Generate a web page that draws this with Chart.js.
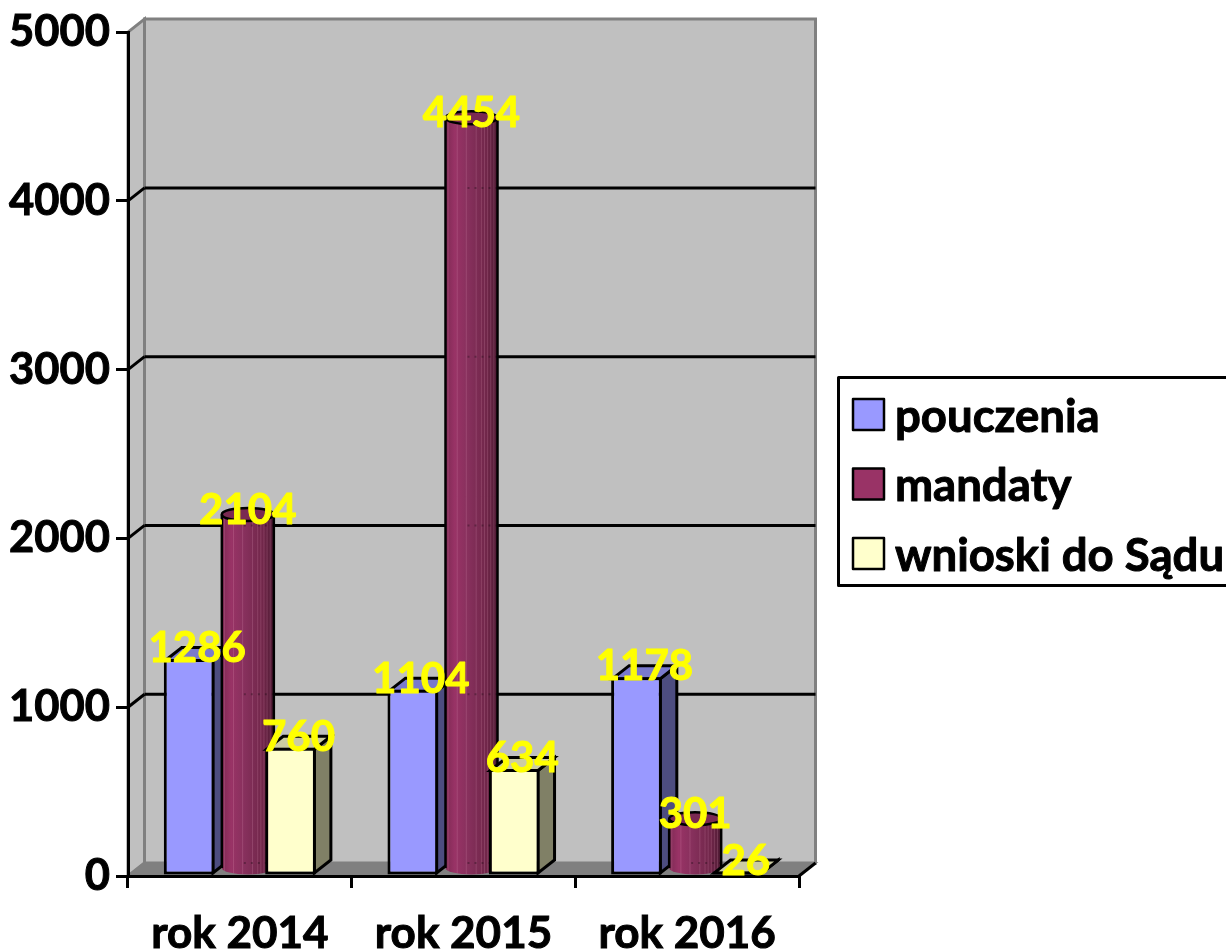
<!DOCTYPE html>
<html><head><meta charset="utf-8">
<script src="https://cdn.jsdelivr.net/npm/chart.js@4"></script>
<style>html,body{margin:0;padding:0;background:#fff}canvas{display:block}</style>
</head><body><canvas id="c" width="1226" height="951"></canvas>
<script>
const categories = ['rok 2014','rok 2015','rok 2016'];
const pouczenia = [1286,1104,1178];
const mandaty = [2104,4454,301];
const wnioski = [760,634,26];
const seriesNames = ['pouczenia','mandaty','wnioski do Sądu'];
const yTicksMax = 5000;
const DX = 16.5, DY = 13;
const faces = [
 {front:'#9999FF',side:'#4D4D80',top:'#7A7ACC'},
 {front:'#993366',side:'#4D1A33',top:'#7A2952'},
 {front:'#FFFFCC',side:'#808066',top:'#CCCCA3'}
];
function poly(ctx,pts,fill,stroke,lw){
  ctx.beginPath();pts.forEach((p,i)=>i?ctx.lineTo(p[0],p[1]):ctx.moveTo(p[0],p[1]));ctx.closePath();
  if(fill){ctx.fillStyle=fill;ctx.fill();}
  if(stroke){ctx.strokeStyle=stroke;ctx.lineWidth=lw;ctx.stroke();}
}
function seg(ctx,a,b,c,d,col,lw){ctx.beginPath();ctx.moveTo(a,b);ctx.lineTo(c,d);ctx.strokeStyle=col;ctx.lineWidth=lw;ctx.stroke();}
function boldText(ctx,s,x,y,col,sw){
  ctx.fillStyle=col;ctx.strokeStyle=col;ctx.lineWidth=sw;ctx.lineJoin='round';
  ctx.strokeText(s,x,y);ctx.fillText(s,x,y);
}
const walls = {id:'walls',beforeDraw(ch){
  const {ctx,chartArea:a,scales:{y}}=ch;ctx.save();
  const L=a.left,R=a.right,T=a.top,B=a.bottom;
  poly(ctx,[[L,T],[L+DX,T-DY],[L+DX,B-DY],[L,B]],'#C0C0C0','#808080',3);
  poly(ctx,[[L+DX,T-DY],[R+DX,T-DY],[R+DX,B-DY],[L+DX,B-DY]],'#C0C0C0','#808080',3);
  poly(ctx,[[L,B],[L+DX,B-DY],[R+DX,B-DY],[R,B]],'#808080','#808080',2);
  y.ticks.forEach(t=>{
    if(t.value===0||t.value===yTicksMax) return;
    const p=y.getPixelForValue(t.value);
    seg(ctx,L+DX,p-DY,R+DX,p-DY,'#000',3);
    seg(ctx,L,p,L+DX,p-DY,'#000',3);
  });
  seg(ctx,R,B,R+DX,B-DY,'#000',3);
  ctx.restore();
}};
function cylinder(ch,ctx,el,f){
  const cx=el.x+8,rx=26,ry=DY/2,top=el.y-ry,bot=el.base-ry;
  const g=ctx.createLinearGradient(cx-rx,0,cx+rx,0);
  g.addColorStop(0,'#7E2A54');g.addColorStop(.18,'#993366');g.addColorStop(.45,'#86305C');g.addColorStop(.8,'#702649');g.addColorStop(1,'#4D1A33');
  ctx.beginPath();ctx.moveTo(cx-rx,top);ctx.lineTo(cx-rx,bot);
  ctx.ellipse(cx,bot,rx,ry,0,Math.PI,0,true);ctx.lineTo(cx+rx,top);
  ctx.ellipse(cx,top,rx,ry,0,0,Math.PI,true);ctx.closePath();
  ctx.fillStyle=g;ctx.fill();
  ctx.save();ctx.clip();
  [-.9,-.55,-.2,.18,.38,.5,.62,.74,.86].forEach(k=>{
    seg(ctx,cx+k*rx,top,cx+k*rx,bot+ry,'rgba(255,190,220,.16)',1);
  });
  ctx.setLineDash([2,5]);
  ch.scales.y.ticks.forEach(t=>{
    const p=ch.scales.y.getPixelForValue(t.value)-DY;
    if(p>top&&p<bot) seg(ctx,cx-4,p,cx+rx,p,'rgba(0,0,0,.28)',2);
  });
  ctx.setLineDash([]);
  ctx.restore();
  seg(ctx,cx-rx,top,cx-rx,bot,'#000',2.5);
  seg(ctx,cx+rx,top,cx+rx,bot,'#000',2.5);
  ctx.beginPath();ctx.ellipse(cx,top,rx,ry,0,0,Math.PI*2);ctx.fillStyle=f.top;ctx.fill();ctx.strokeStyle='#000';ctx.lineWidth=2.5;ctx.stroke();
}
const solid = {id:'solid',
beforeDatasetsDraw(ch){
  const ctx=ch.ctx;
  [0,1,2].forEach(i=>{
    const meta=ch.getDatasetMeta(i),f=faces[i];
    ctx.save();
    meta.data.forEach(el=>{
      if(i===1){cylinder(ch,ctx,el,f);return;}
      const l=el.x-el.width/2+1.5,r=el.x+el.width/2-1.5,t=el.y+1.5,b=el.base-1.5;
      poly(ctx,[[r,t],[r+DX,t-DY],[r+DX,b-DY],[r,b]],f.side,'#000',3);
      poly(ctx,[[l,t],[l+DX,t-DY],[r+DX,t-DY],[r,t]],f.top,'#000',3);
    });
    ctx.restore();
    meta.controller.draw();
  });
},
beforeDatasetDraw(){return false;},
afterDatasetsDraw(ch){
  const ctx=ch.ctx;ctx.save();
  ctx.font='bold 42px Lato';ctx.textAlign='center';ctx.textBaseline='middle';
  ch.data.datasets.forEach((d,i)=>{
    ch.getDatasetMeta(i).data.forEach((el,j)=>boldText(ctx,String(d.data[j]),el.x+8,el.y-10.5,'#FFFF00',1));
  });
  // legend
  ctx.strokeStyle='#000';ctx.lineWidth=3;ctx.strokeRect(838.5,377.5,400,208);
  ctx.font='bold 45.5px Lato';ctx.textAlign='left';ctx.textBaseline='alphabetic';
  [399,468.5,538].forEach((p,i)=>{
    ctx.fillStyle=faces[i].front;ctx.fillRect(853,p,31,31);
    ctx.strokeStyle='#000';ctx.lineWidth=2.5;ctx.strokeRect(853,p,31,31);
    boldText(ctx,seriesNames[i],895,p+32.5,'#000',1);
  });
  ctx.restore();
}};
const mk=(i,data)=>({label:seriesNames[i],data,clip:false,
  backgroundColor:i===1?'transparent':faces[i].front,
  borderColor:i===1?'transparent':'#000',borderWidth:i===1?0:3,borderSkipped:false,
  categoryPercentage:.68,barPercentage:1});
new Chart(document.getElementById('c'),{
  type:'bar',
  data:{labels:categories,datasets:[mk(0,pouczenia),mk(1,mandaty),mk(2,wnioski)]},
  options:{responsive:false,animation:false,devicePixelRatio:1,
    layout:{padding:{left:0,right:427,top:31,bottom:0}},
    plugins:{legend:{display:false},tooltip:{enabled:false},title:{display:false}},
    scales:{
      x:{afterFit(s){s.height=75;},
        grid:{drawOnChartArea:false,drawTicks:true,tickLength:12,color:'#000',lineWidth:3},
        border:{color:'#000',width:3},
        ticks:{color:'#000',font:{family:'Lato',weight:'bold',size:44},padding:19,maxRotation:0,textStrokeColor:'#000',textStrokeWidth:1}},
      y:{min:0,max:yTicksMax,afterFit(s){s.width=128;},
        grid:{drawOnChartArea:false,drawTicks:true,tickLength:12,color:'#000',lineWidth:3},
        border:{color:'#000',width:3},
        ticks:{stepSize:1000,callback:v=>String(v),color:'#000',font:{family:'Lato',weight:'bold',size:43.5},padding:6,textStrokeColor:'#000',textStrokeWidth:1}}
    }
  },
  plugins:[walls,solid]
});
</script></body></html>
